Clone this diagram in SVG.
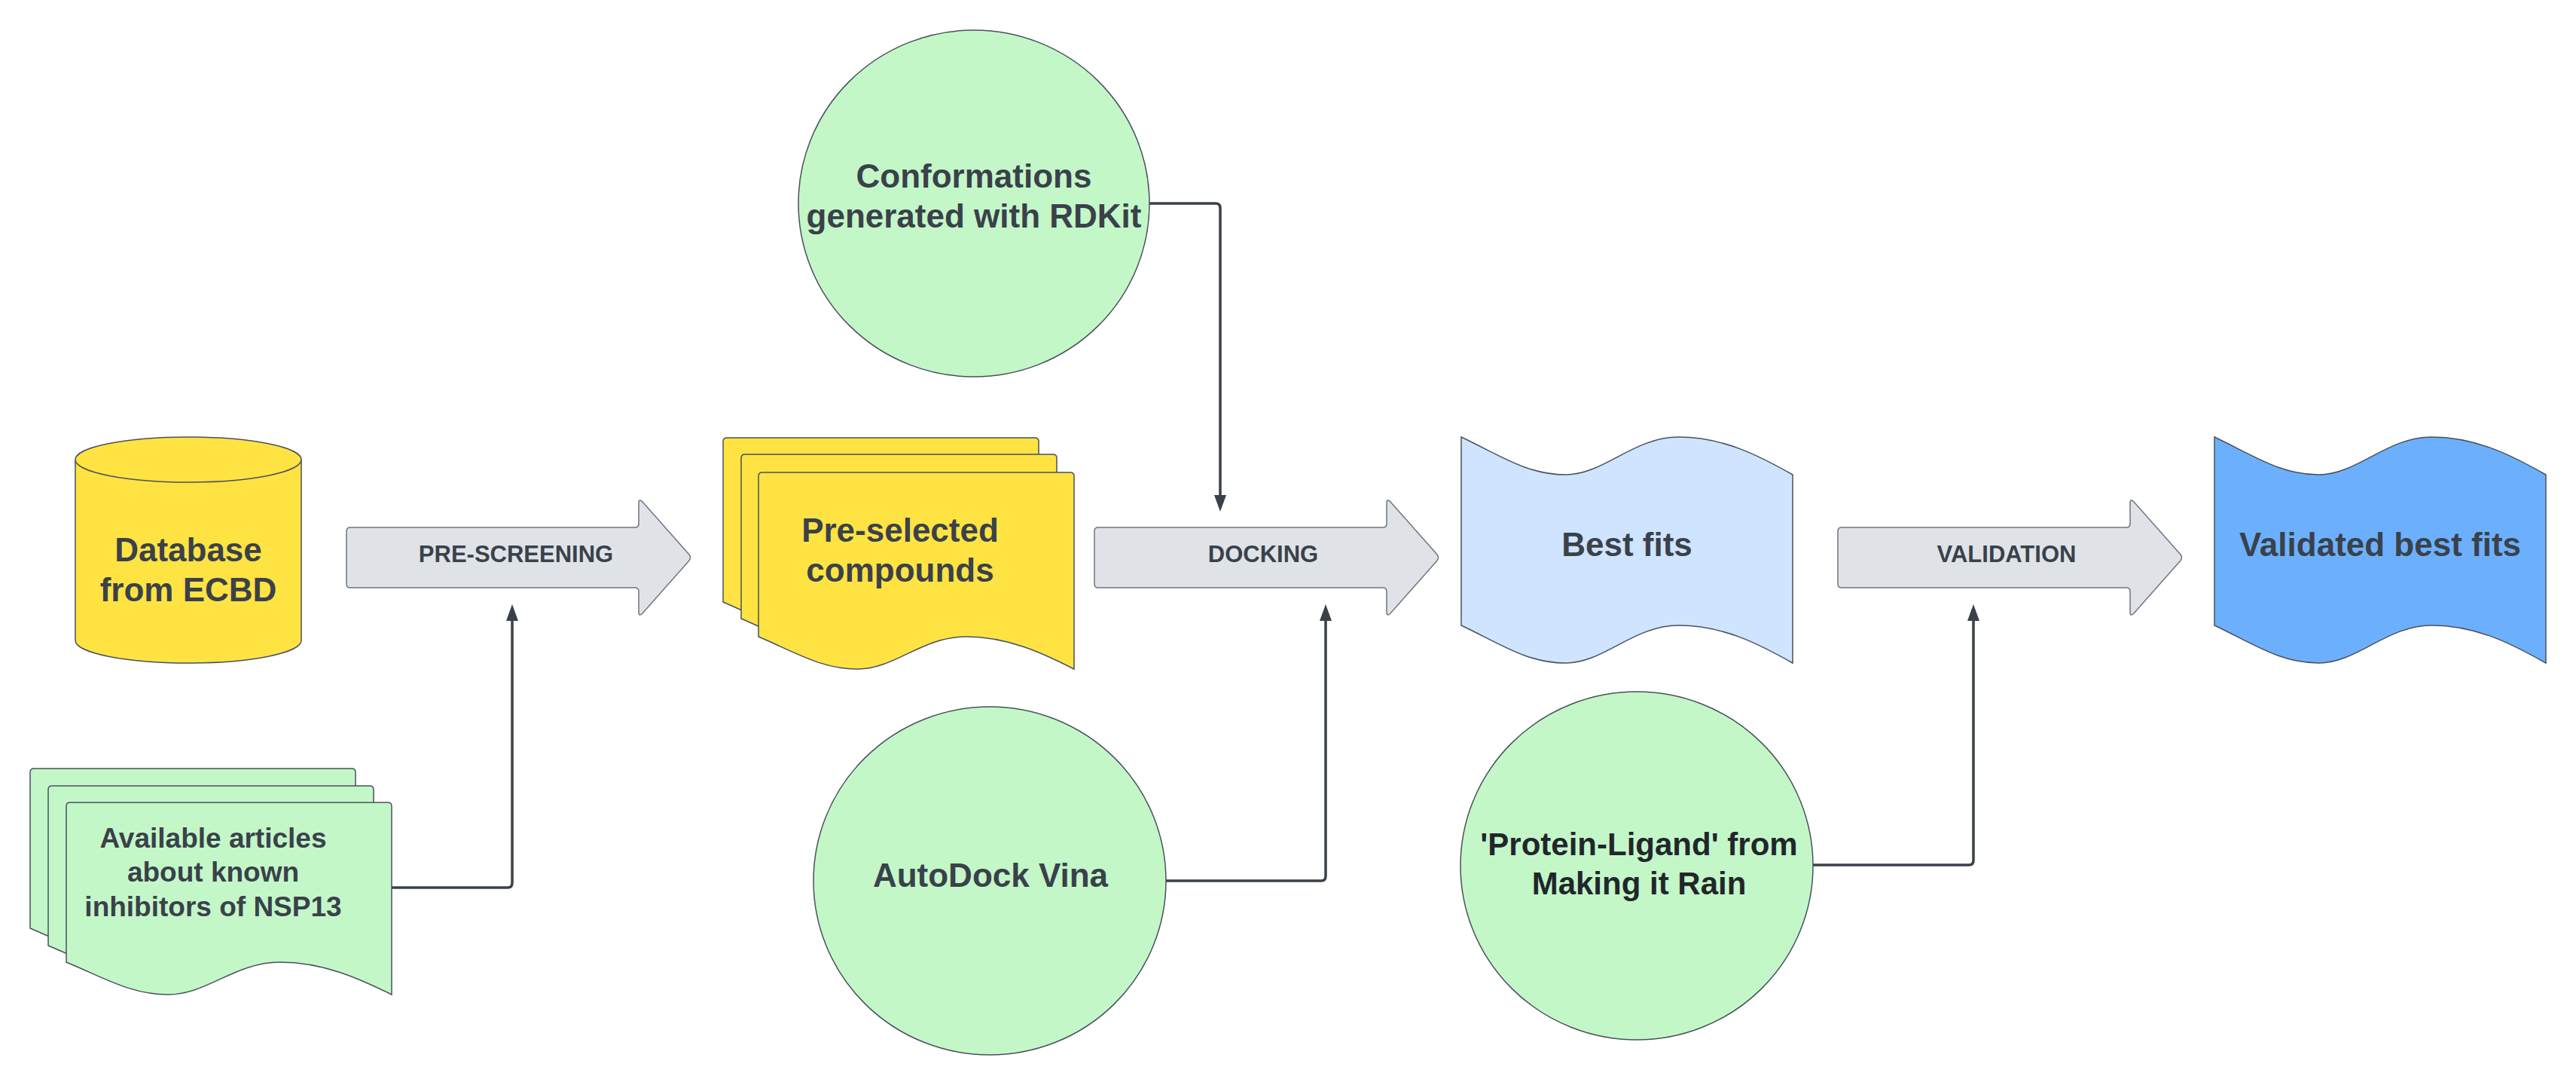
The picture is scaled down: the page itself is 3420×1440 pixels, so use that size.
<svg xmlns="http://www.w3.org/2000/svg" xmlns:xlink="http://www.w3.org/1999/xlink" width="3420" height="1440" viewBox="0 0 3420 1440">
<style>
.t{font-family:"Liberation Sans",Arial,sans-serif;font-weight:bold;fill:#3a414a;text-anchor:middle}
.big{font-size:44px}
.lbl{font-size:31px}
.shape{stroke:#4a515b;stroke-width:1.5}
.yellow{fill:#ffe343}
.green{fill:#c3f7c8}
.lblue{fill:#cfe4ff}
.blue{fill:#6cb0fd}
.garrow{fill:#dfe3e8;stroke:#6f7681;stroke-width:1.5}
.conn{fill:none;stroke:#3a414a;stroke-width:3.5}
</style>
<defs>
<marker id="ah" viewBox="0 0 22 16" refX="12" refY="8" markerWidth="22" markerHeight="16" markerUnits="userSpaceOnUse" orient="auto">
<path d="M0,0 L22,8 L0,16 Z" fill="#3a414a"/>
</marker>
<path id="doc432" d="M0,5 Q0,0 5,0 H427 Q432,0 432,5 V255 C388.8,233.5 341.3,212 283.4,212 C224.6,212 185.8,255 136.1,255 C86.4,255 51.8,233.5 0,212 Z"/>
<path id="doc419" d="M0,5 Q0,0 5,0 H414 Q419,0 419,5 V261 C377.1,239.5 331,218 274.9,218 C217.9,218 180.2,261 132,261 C83.8,261 50.3,239.5 0,218 Z"/>
<path id="flag" d="M0,0 C52.8,25 88,50 138.6,50 C189.2,50 228.8,0 288.6,0 C347.6,0 396,25 440,50 V300 C396,275 347.6,250 288.6,250 C228.8,250 189.2,300 138.6,300 C88,300 52.8,275 0,250 Z"/>
<path id="barrow" d="M5,-40 H383 Q388,-40 388,-45 V-72 Q388,-79 393,-74 L455,-4 Q458,0 455,4 L393,74 Q388,79 388,72 V45 Q388,40 383,40 H5 Q0,40 0,35 V-35 Q0,-40 5,-40 Z"/>
</defs>
<rect width="3420" height="1440" fill="#ffffff"/>

<g id="connectors">
<path class="conn" d="M520,1178 H674 Q680,1178 680,1172 V812" marker-end="url(#ah)"/>
<path class="conn" d="M1526,270 H1614 Q1620,270 1620,276 V669" marker-end="url(#ah)"/>
<path class="conn" d="M1548,1169 H1754 Q1760,1169 1760,1163 V812" marker-end="url(#ah)"/>
<path class="conn" d="M2407,1148 H2614 Q2620,1148 2620,1142 V812" marker-end="url(#ah)"/>
</g>

<g id="database">
<path class="shape yellow" d="M100,610 A150,30 0 0 1 400,610 V850 A150,30 0 0 1 100,850 Z"/>
<path class="shape" fill="none" d="M100,610 A150,30 0 0 0 400,610"/>
<text class="t big" x="250" y="745">Database</text>
<text class="t big" x="250" y="798">from ECBD</text>
</g>

<g id="articles">
<use href="#doc432" class="shape green" transform="translate(40,1020)"/>
<use href="#doc432" class="shape green" transform="translate(64,1043)"/>
<use href="#doc432" class="shape green" transform="translate(88,1065)"/>
<text class="t" style="font-size:37px" x="283" y="1125">Available articles</text>
<text class="t" style="font-size:37px" x="283" y="1170">about known</text>
<text class="t" style="font-size:37px" x="283" y="1216">inhibitors of NSP13</text>
</g>

<g id="prescreening">
<use href="#barrow" class="garrow" transform="translate(460,740)"/>
<text class="t lbl" x="685" y="746">PRE-SCREENING</text>
</g>

<g id="preselected">
<use href="#doc419" class="shape yellow" transform="translate(960,581)"/>
<use href="#doc419" class="shape yellow" transform="translate(984,603)"/>
<use href="#doc419" class="shape yellow" transform="translate(1007,627)"/>
<text class="t big" x="1195" y="719">Pre-selected</text>
<text class="t big" x="1195" y="772">compounds</text>
</g>

<g id="conformations">
<ellipse class="shape green" cx="1293" cy="270" rx="233" ry="230"/>
<text class="t big" x="1293" y="249">Conformations</text>
<text class="t big" x="1293" y="302">generated with RDKit</text>
</g>

<g id="autodock">
<ellipse class="shape green" cx="1314" cy="1169" rx="234" ry="231"/>
<text class="t big" x="1315" y="1177">AutoDock Vina</text>
</g>

<g id="docking">
<use href="#barrow" class="garrow" transform="translate(1453,740)"/>
<text class="t lbl" x="1677" y="746">DOCKING</text>
</g>

<g id="bestfits">
<use href="#flag" class="shape lblue" transform="translate(1940,580)"/>
<text class="t big" x="2160" y="738">Best fits</text>
</g>

<g id="protein">
<ellipse class="shape green" cx="2173" cy="1149" rx="234" ry="231"/>
<text class="t" style="font-size:42px;fill:#22262b" x="2176" y="1135">'Protein-Ligand' from</text>
<text class="t" style="font-size:42px;fill:#22262b" x="2176" y="1187">Making it Rain</text>
</g>

<g id="validation">
<use href="#barrow" class="garrow" transform="translate(2440,740)"/>
<text class="t lbl" x="2664" y="746">VALIDATION</text>
</g>

<g id="validated">
<use href="#flag" class="shape blue" transform="translate(2940,580)"/>
<text class="t big" x="3160" y="738">Validated best fits</text>
</g>
</svg>
